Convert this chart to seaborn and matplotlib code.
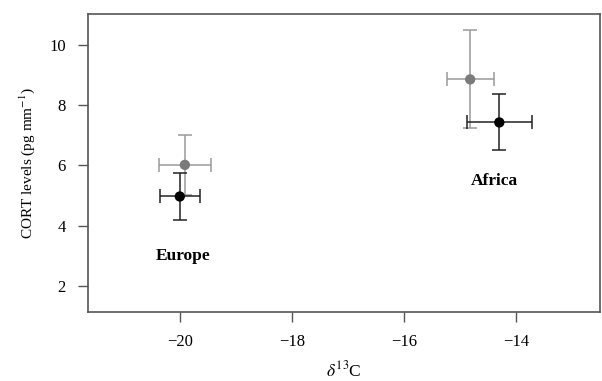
import numpy as np
import pandas as pd
import seaborn as sns
import matplotlib.pyplot as plt

# values
regions = ["Europe", "Europe", "Africa", "Africa"]
groups = ["grey", "black", "grey", "black"]
d13c = [-19.91, -20.0, -14.82, -14.30]
d13c_err = [0.47, 0.36, 0.42, 0.58]
cort = [6.02, 4.97, 8.86, 7.43]
cort_err = [1.0, 0.78, 1.63, 0.93]

df = pd.DataFrame({"region": regions, "group": groups, "d13c": d13c,
                   "d13c_err": d13c_err, "cort": cort, "cort_err": cort_err})

sns.set_style("ticks")
plt.rcParams["font.family"] = ["Liberation Serif", "DejaVu Serif"]
plt.rcParams["mathtext.fontset"] = "stix"
plt.rcParams["text.color"] = "black"
plt.rcParams["axes.labelcolor"] = "black"
plt.rcParams["xtick.labelcolor"] = "black"
plt.rcParams["ytick.labelcolor"] = "black"

fig = plt.figure(figsize=(6.02, 3.81), dpi=100)
ax = fig.add_axes([0.146, 0.181, 0.851, 0.782])

palette = {"grey": "#7a7a7a", "black": "#000000"}
bar_cols = {"grey": "#9a9a9a", "black": "#222222"}

# grey first so the black one sits on top
for g in ["grey", "black"]:
    sub = df[df["group"] == g]
    ax.errorbar(sub["d13c"], sub["cort"], xerr=sub["d13c_err"], yerr=sub["cort_err"],
                fmt="none", ecolor=bar_cols[g], elinewidth=1.1, capsize=5, capthick=1.1,
                zorder=2 if g == "grey" else 3)

sns.scatterplot(data=df, x="d13c", y="cort", hue="group", palette=palette,
                s=55, edgecolor="none", legend=False, ax=ax, zorder=4)

ax.text(-19.95, 3.0, "Europe", ha="center", va="center", fontsize=12.5, fontweight="bold")
ax.text(-14.39, 5.5, "Africa", ha="center", va="center", fontsize=12.5, fontweight="bold")

ax.set_xlim(-21.64, -12.5)
ax.set_ylim(1.13, 11.03)
ax.set_xticks([-20, -18, -16, -14])
ax.set_yticks([2, 4, 6, 8, 10])
ax.set_xticklabels(["\u221220", "\u221218", "\u221216", "\u221214"])
ax.set_xlabel("$\\delta^{13}$C", fontsize=12.5, labelpad=7)
ax.set_ylabel("CORT levels (pg mm$^{-1}$)", fontsize=11, labelpad=9)
ax.tick_params(labelsize=12, length=7, width=1, color="#555555", pad=9)

for sp in ax.spines.values():
    sp.set_visible(True)
    sp.set_color("#555555")
    sp.set_linewidth(1.2)

fig.savefig("out.png", dpi=100)
